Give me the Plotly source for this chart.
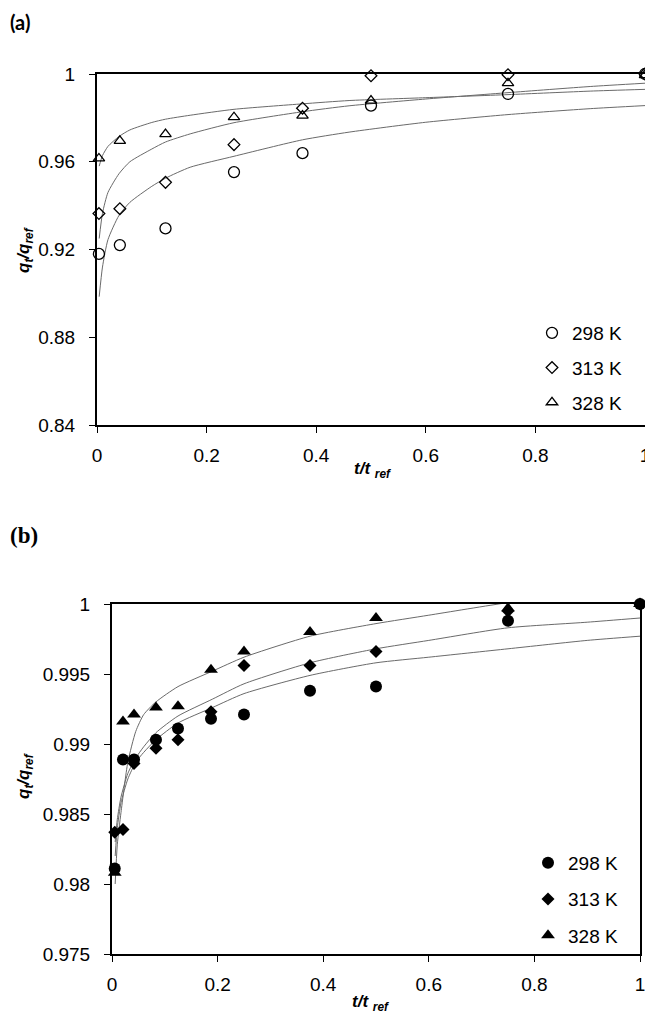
import plotly.graph_objects as go

W, H = 653, 1020
OFF = 8  # page body margin offset in the browser

# ---------------- Panel (a) data ----------------
xa = [0.0035, 0.0417, 0.125, 0.25, 0.375, 0.5, 0.75, 1.0]
a298 = [0.918, 0.922, 0.9296, 0.9553, 0.9639, 0.9856, 0.9909, 1.0]
a313 = [0.9364, 0.9386, 0.9506, 0.9678, 0.9844, 0.9992, 0.9997, 1.0]
a328 = [0.9615, 0.9695, 0.9726, 0.9803, 0.9810, 0.9879, 0.9958, 0.9995]

# fitted curves
xa_fit = [0.004, 0.01, 0.02, 0.04, 0.06, 0.1, 0.125, 0.17, 0.25, 0.375, 0.46, 0.6, 0.75, 0.9, 1.0]
a298_fit = [0.8985, 0.912, 0.9245, 0.9355, 0.9415, 0.9488, 0.9525, 0.9575, 0.9625, 0.970, 0.9735, 0.978, 0.9815, 0.9842, 0.9856]
a313_fit = [0.925, 0.9365, 0.946, 0.9545, 0.960, 0.9658, 0.969, 0.9727, 0.9778, 0.9828, 0.9855, 0.9886, 0.9915, 0.9943, 0.9958]
a328_fit = [0.958, 0.9628, 0.9670, 0.9715, 0.9745, 0.9779, 0.9794, 0.9812, 0.9839, 0.9864, 0.9879, 0.9892, 0.9906, 0.9922, 0.9930]

# ---------------- Panel (b) data ----------------
xb = [0.0052, 0.0208, 0.0417, 0.0833, 0.125, 0.1875, 0.25, 0.375, 0.5, 0.75, 1.0]
b298 = [0.9811, 0.9889, 0.9889, 0.9903, 0.9911, 0.9918, 0.9921, 0.9938, 0.9941, 0.9988, 1.0]
b313 = [0.9837, 0.9839, 0.9886, 0.9897, 0.9903, 0.9923, 0.9956, 0.9956, 0.9966, 0.9995, 1.0]
b328 = [0.9808, 0.9916, 0.9921, 0.9926, 0.9927, 0.9953, 0.9966, 0.9980, 0.9990, 0.9997, 1.0]

xb_fit = [0.006, 0.01, 0.017, 0.03, 0.045, 0.06, 0.083, 0.125, 0.19, 0.25, 0.375, 0.5, 0.6, 0.75, 0.9, 1.0]
b298_fit = [0.9820, 0.9840, 0.9858, 0.9875, 0.9887, 0.9894, 0.9903, 0.9915, 0.9926, 0.9936, 0.9949, 0.9958, 0.9962, 0.9968, 0.9974, 0.9977]
b313_fit = [0.9830, 0.9846, 0.9862, 0.9879, 0.9890, 0.9898, 0.9908, 0.9920, 0.9932, 0.9943, 0.9958, 0.9968, 0.9974, 0.9983, 0.9987, 0.9990]
b328_fit = [0.9800, 0.9828, 0.9851, 0.9887, 0.9909, 0.9921, 0.9930, 0.9941, 0.9952, 0.9962, 0.9977, 0.9986, 0.9992, 1.0001, 1.0008, 1.0012]

series_names = ["298 K", "313 K", "328 K"]
xticks = [0, 0.2, 0.4, 0.6, 0.8, 1]
xticktext = ["0", "0.2", "0.4", "0.6", "0.8", "1"]
ya_ticks = [0.84, 0.88, 0.92, 0.96, 1.0]
ya_text = ["0.84", "0.88", "0.92", "0.96", "1"]
yb_ticks = [0.975, 0.98, 0.985, 0.99, 0.995, 1.0]
yb_text = ["0.975", "0.98", "0.985", "0.99", "0.995", "1"]

FONT = "Liberation Sans, Arial, sans-serif"

fig = go.Figure()

def px_x(p):
    return (p - OFF) / W

def px_y(p):
    return 1 - (p - OFF) / H

fit_style = dict(color="#6a6a6a", width=1, shape="spline", smoothing=0.6)

# Panel (a) curves
for yfit in (a298_fit, a313_fit, a328_fit):
    fig.add_trace(go.Scatter(x=xa_fit, y=yfit, mode="lines", line=fit_style,
                             showlegend=False, hoverinfo="skip", xaxis="x", yaxis="y"))
# Panel (a) markers
open_syms = [("circle-open", 11), ("diamond-open", 9), ("triangle-up-open", 10)]
for name, ys, (sym, sz) in zip(series_names, (a298, a313, a328), open_syms):
    fig.add_trace(go.Scatter(x=xa, y=ys, mode="markers", name=name,
                             marker=dict(symbol=sym, size=sz, color="black", line=dict(width=1.3, color="black")),
                             legend="legend", legendgroup="a" + name, xaxis="x", yaxis="y", cliponaxis=False))

# Panel (b) curves
for yfit in (b298_fit, b313_fit, b328_fit):
    fig.add_trace(go.Scatter(x=xb_fit, y=yfit, mode="lines", line=fit_style,
                             showlegend=False, hoverinfo="skip", xaxis="x2", yaxis="y2"))
filled_syms = [("circle", 12), ("diamond", 10), ("triangle-up", 12)]
for name, ys, (sym, sz) in zip(series_names, (b298, b313, b328), filled_syms):
    fig.add_trace(go.Scatter(x=xb, y=ys, mode="markers", name=name,
                             marker=dict(symbol=sym, size=sz, color="black", line=dict(width=0)),
                             legend="legend2", legendgroup="b" + name, xaxis="x2", yaxis="y2", cliponaxis=False))

axis_common = dict(showline=True, linewidth=2, linecolor="black", mirror=True,
                   ticks="outside", ticklen=6, tickwidth=1, tickcolor="black",
                   showgrid=False, zeroline=False, automargin=False,
                   tickfont=dict(family=FONT, size=19, color="black"))

fig.update_layout(
    width=W, height=H,
    margin=dict(l=0, r=0, t=0, b=0, pad=0, autoexpand=False),
    paper_bgcolor="white", plot_bgcolor="white",
    xaxis=dict(domain=[px_x(97), px_x(645)], range=[0, 1], tickvals=xticks, ticktext=xticktext,
               anchor="y", ticklabelstandoff=6, **axis_common),
    yaxis=dict(domain=[px_y(425), px_y(74)], range=[0.84, 1.0], tickvals=ya_ticks, ticktext=ya_text,
               anchor="x", ticklabelstandoff=10, **axis_common),
    xaxis2=dict(domain=[px_x(112), px_x(640)], range=[0, 1], tickvals=xticks, ticktext=xticktext,
                anchor="y2", ticklabelstandoff=6, **axis_common),
    yaxis2=dict(domain=[px_y(954), px_y(604)], range=[0.975, 1.0], tickvals=yb_ticks, ticktext=yb_text,
                anchor="x2", ticklabelstandoff=10, **axis_common),
    legend=dict(x=px_x(532), y=px_y(314), xanchor="left", yanchor="top",
                bgcolor="rgba(0,0,0,0)", font=dict(family=FONT, size=19, color="black"),
                tracegroupgap=7, itemsizing="trace"),
    legend2=dict(x=px_x(528), y=px_y(844), xanchor="left", yanchor="top",
                 bgcolor="rgba(0,0,0,0)", font=dict(family=FONT, size=19, color="black"),
                 tracegroupgap=8.5, itemsizing="trace"),
    showlegend=True,
)

title_font = dict(family=FONT, size=17, color="black")
annotations = [
    dict(text="<b><i>q<sub>t</sub>/q<sub>ref</sub></i></b>", x=px_x(25), y=px_y(250), textangle=-90),
    dict(text="<b><i>t/t <sub>ref</sub></i></b>", x=px_x(372), y=px_y(470)),
    dict(text="<b><i>q<sub>t</sub>/q<sub>ref</sub></i></b>", x=px_x(25), y=px_y(776), textangle=-90),
    dict(text="<b><i>t/t <sub>ref</sub></i></b>", x=px_x(370), y=px_y(1003)),
]
for a in annotations:
    fig.add_annotation(xref="paper", yref="paper", showarrow=False, font=title_font,
                       xanchor="center", yanchor="middle", **a)

fig.add_annotation(text="<b>(a)</b>", xref="paper", yref="paper", x=px_x(8), y=px_y(8),
                   xanchor="left", yanchor="top", showarrow=False,
                   font=dict(family="Lato, Open Sans, sans-serif", size=20, color="black"))
fig.add_annotation(text="<b>(b)</b>", xref="paper", yref="paper", x=px_x(8), y=px_y(535),
                   xanchor="left", yanchor="middle", showarrow=False,
                   font=dict(family="Liberation Serif, Times New Roman, serif", size=23, color="black"))

fig.write_html("out.html")
